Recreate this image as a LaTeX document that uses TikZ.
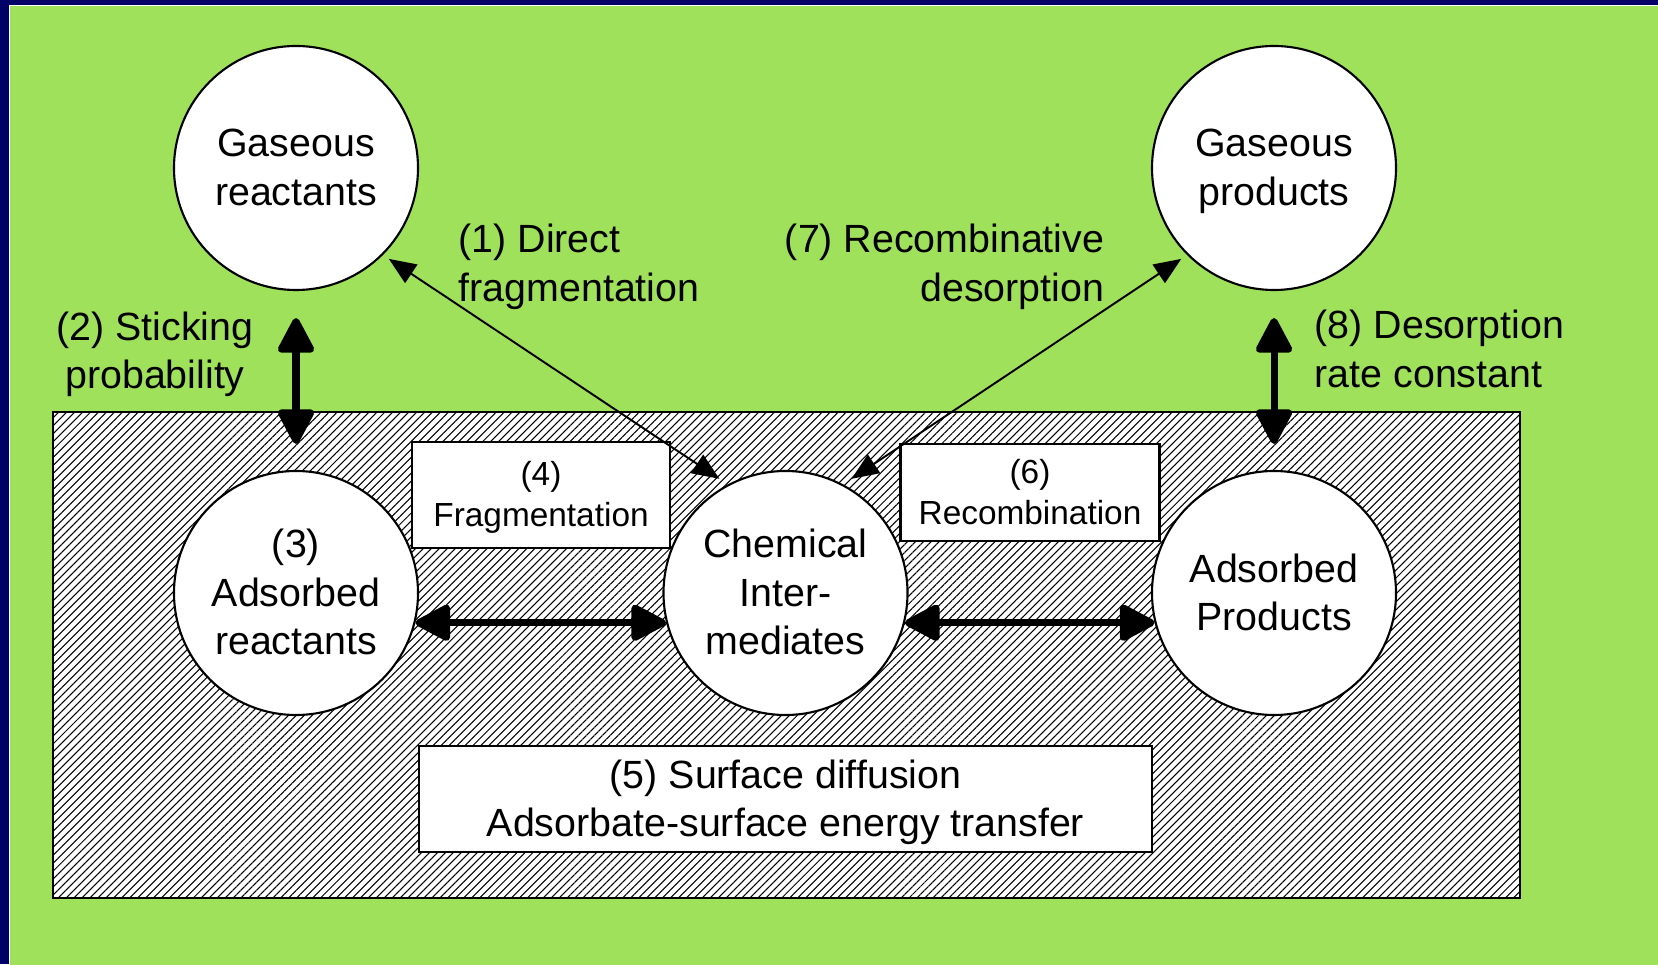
\documentclass[tikz,border=0pt]{standalone}
\usepackage{fontspec}
\setmainfont{Liberation Sans}
\usetikzlibrary{arrows.meta,patterns.meta}
\definecolor{slide_navy}{HTML}{000066}
\definecolor{slide_green}{HTML}{A0E15C}

\tikzset{
	state/.style={circle, draw, line width=0.6pt, fill=white, minimum size=2.44cm, inner sep=0pt, align=center, text depth=0.5pt, font=\fontsize{11.2}{13.8}\selectfont},
	stepbox/.style={draw, line width=0.6pt, fill=white, inner sep=0pt, align=center, text depth=0.5pt},
	lbl/.style={inner sep=0pt, text depth=0.5pt, font=\fontsize{11.2}{13.8}\selectfont},
	bigarrow/.style={line width=2pt, {Triangle[length=3.9mm, width=3.9mm, round]}-{Triangle[length=3.9mm, width=3.9mm, round]}},
	thinarrow/.style={line width=0.55pt, {Triangle[length=2.7mm, width=2.2mm]}-{Triangle[length=2.7mm, width=2.2mm]}},
}

\begin{document}
\begin{tikzpicture}
	\useasboundingbox (0, 0) rectangle (16.58, 9.64);
	\fill[slide_navy] (0, 0) rectangle (16.58, 9.64);
	\filldraw[fill=slide_green, draw=white, line width=0.4pt] (0.095, -0.2) rectangle (16.8, 9.585);
	% the surface
	\draw[line width=0.6pt, preaction={fill=white}, pattern={Lines[angle=45, distance=1.6pt, line width=0.3pt]}] (0.53, 0.66) rectangle (15.20, 5.52);
	\node[state] (gasR) at (2.96, 7.96) {Gaseous\\reactants};
	\node[state] (gasP) at (12.74, 7.96) {Gaseous\\products};
	\node[state] (adsR) at (2.96, 3.71) {(3)\\Adsorbed\\reactants};
	\node[state] (chem) at (7.855, 3.71) {Chemical\\Inter-\\mediates};
	\node[state] (adsP) at (12.74, 3.71) {Adsorbed\\Products};
	\node[stepbox, minimum width=2.58cm, minimum height=1.06cm, font=\fontsize{9.5}{11.7}\selectfont] (frag) at (5.41, 4.69) {(4)\\Fragmentation};
	\node[stepbox, minimum width=2.59cm, minimum height=0.97cm, font=\fontsize{9.5}{11.7}\selectfont] (recomb) at (10.30, 4.715) {(6)\\Recombination};
	\node[stepbox, minimum width=7.33cm, minimum height=1.06cm, font=\fontsize{11.2}{13.8}\selectfont] (surf) at (7.855, 1.65) {(5) Surface diffusion\\Adsorbate-surface energy transfer};
	% steps between the states
	\draw[bigarrow, shorten <=0.27cm, shorten >=0.26cm] (gasR) -- (adsR);
	\draw[bigarrow, shorten <=0.27cm, shorten >=0.26cm] (gasP) -- (adsP);
	\draw[bigarrow] (adsR.-14) -- (chem.194);
	\draw[bigarrow] (chem.-14) -- (adsP.194);
	\draw[thinarrow, shorten <=0.07cm, shorten >=0.1cm] (gasR.-45) -- (chem.118);
	\draw[thinarrow, shorten <=0.1cm, shorten >=0.07cm] (chem.62) -- (gasP.225);
	\node[lbl, anchor=west, align=left] (l1) at (4.58, 7.005) {(1) Direct\\fragmentation};
	\node[lbl, anchor=east, align=right] (l7) at (11.05, 7.005) {(7) Recombinative\\desorption};
	\node[lbl, align=center] (l2) at (1.55, 6.13) {(2) Sticking\\probability};
	\node[lbl, anchor=west, align=left] (l8) at (13.14, 6.145) {(8) Desorption\\rate constant};
\end{tikzpicture}
\end{document}
